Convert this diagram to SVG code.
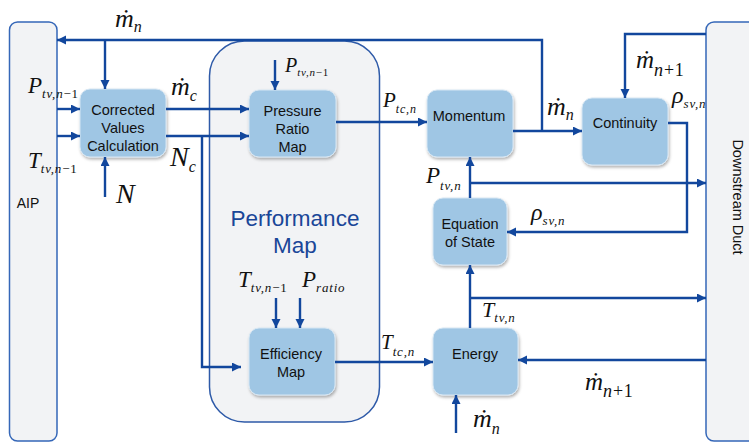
<svg xmlns="http://www.w3.org/2000/svg" width="749" height="443" viewBox="0 0 749 443">
<style>
.cn{fill:none;stroke:#12479d;stroke-width:2.4}
.box{fill:#9fc6e4;stroke:#d6e6f3;stroke-width:1}
.side{fill:#f2f3f5;stroke:#3567b8;stroke-width:1.5}
.bt{font-family:"Liberation Sans",Arial,sans-serif;font-size:14.5px;fill:#111;text-anchor:middle}
.mi{font-family:"Liberation Serif","Times New Roman",serif;font-style:italic;fill:#111}
.sb{font-size:13px;letter-spacing:0.8px}
.up{font-style:normal}
.pm{font-family:"Liberation Sans",Arial,sans-serif;font-size:22.5px;fill:#1a4698;text-anchor:middle}
</style>
<defs>
<marker id="ah" markerUnits="userSpaceOnUse" markerWidth="10" markerHeight="10" refX="9" refY="4.5" orient="auto">
<path d="M0,0 L9,4.5 L0,9 z" fill="#12479d"/>
</marker>
<filter id="sh" x="-10%" y="-10%" width="130%" height="130%">
<feDropShadow dx="1" dy="2" stdDeviation="1.5" flood-color="#000" flood-opacity="0.3"/>
</filter>
</defs>

<g id="aip">
<rect class="side" x="9.5" y="22" width="47.5" height="419" rx="8"/>
<text class="bt" x="28" y="208" style="font-size:14px">AIP</text>
</g>

<g id="downstream">
<rect class="side" x="706" y="22" width="60" height="419" rx="8"/>
<text class="bt" transform="translate(733,197) rotate(90)">Downstream Duct</text>
</g>

<g id="performance-map">
<rect x="209.5" y="41" width="170" height="381" rx="35" fill="#f2f3f5" stroke="#2e5aa8" stroke-width="1.5"/>
<text class="pm" x="295" y="226">Performance</text>
<text class="pm" x="295" y="253">Map</text>
</g>

<g id="corrected">
<rect class="box" x="80" y="89" width="86" height="68" rx="10" filter="url(#sh)"/>
<text class="bt" x="123" y="115">Corrected</text>
<text class="bt" x="123" y="133">Values</text>
<text class="bt" x="123" y="151">Calculation</text>
</g>

<g id="pressure">
<rect class="box" x="249" y="90" width="87" height="67" rx="10" filter="url(#sh)"/>
<text class="bt" x="292.5" y="116">Pressure</text>
<text class="bt" x="292.5" y="134">Ratio</text>
<text class="bt" x="292.5" y="152">Map</text>
</g>

<g id="efficiency">
<rect class="box" x="249" y="328" width="86" height="67" rx="10" filter="url(#sh)"/>
<text class="bt" x="291" y="359">Efficiency</text>
<text class="bt" x="291" y="377">Map</text>
</g>

<g id="momentum">
<rect class="box" x="427" y="90" width="86" height="67" rx="10" filter="url(#sh)"/>
<text class="bt" x="469" y="121">Momentum</text>
</g>

<g id="continuity">
<rect class="box" x="582" y="98" width="86" height="67" rx="10" filter="url(#sh)"/>
<text class="bt" x="625" y="128">Continuity</text>
</g>

<g id="eos">
<rect class="box" x="433" y="198" width="74" height="67" rx="10" filter="url(#sh)"/>
<text class="bt" x="470" y="229">Equation</text>
<text class="bt" x="470" y="247">of State</text>
</g>

<g id="energy">
<rect class="box" x="433" y="328" width="85" height="67" rx="10" filter="url(#sh)"/>
<text class="bt" x="475" y="359">Energy</text>
</g>

<g id="connectors">
<path class="cn" d="M542,131 V40 H57" marker-end="url(#ah)"/>
<path class="cn" d="M105,40 V89" marker-end="url(#ah)"/>
<path class="cn" d="M57,109 H80" marker-end="url(#ah)"/>
<path class="cn" d="M57,136 H80" marker-end="url(#ah)"/>
<path class="cn" d="M105,197 V157" marker-end="url(#ah)"/>
<path class="cn" d="M166,109 H249" marker-end="url(#ah)"/>
<path class="cn" d="M166,136 H249" marker-end="url(#ah)"/>
<path class="cn" d="M202,137 V367 H241" marker-end="url(#ah)"/>
<path class="cn" d="M275,60 V90" marker-end="url(#ah)"/>
<path class="cn" d="M336,122 H427" marker-end="url(#ah)"/>
<path class="cn" d="M513,131 H582" marker-end="url(#ah)"/>
<path class="cn" d="M706,34 H625 V98" marker-end="url(#ah)"/>
<path class="cn" d="M668,123 H687 V232 H507" marker-end="url(#ah)"/>
<path class="cn" d="M470,198 V157" marker-end="url(#ah)"/>
<path class="cn" d="M470,183 H706" marker-end="url(#ah)"/>
<path class="cn" d="M470,328 V265" marker-end="url(#ah)"/>
<path class="cn" d="M470,298 H706" marker-end="url(#ah)"/>
<path class="cn" d="M706,360 H518" marker-end="url(#ah)"/>
<path class="cn" d="M456,433 V395" marker-end="url(#ah)"/>
<path class="cn" d="M335,362 H433" marker-end="url(#ah)"/>
<path class="cn" d="M276,298 V328" marker-end="url(#ah)"/>
<path class="cn" d="M300,298 V328" marker-end="url(#ah)"/>
</g>

<g id="labels">
<text class="mi" x="115" y="27" font-size="26">ṁ<tspan class="sb" dy="5" style="font-size:16px">n</tspan></text>
<text class="mi" x="28" y="93" font-size="23">P<tspan class="sb" dy="5">tv,n<tspan class="up">−1</tspan></tspan></text>
<text class="mi" x="28" y="168" font-size="23">T<tspan class="sb" dy="5">tv,n<tspan class="up">−1</tspan></tspan></text>
<text class="mi" x="171" y="95" font-size="26">ṁ<tspan class="sb" dy="6" style="font-size:16px">c</tspan></text>
<text class="mi" x="170" y="166" font-size="28">N<tspan class="sb" dy="6" style="font-size:16px">c</tspan></text>
<text class="mi" x="116" y="203" font-size="28">N</text>
<text class="mi" x="285" y="72" font-size="20">P<tspan class="sb" dy="4" style="font-size:11px">tv,n<tspan class="up">−1</tspan></tspan></text>
<text class="mi" x="383" y="107" font-size="21">P<tspan class="sb" dy="6" style="font-size:12px">tc,n</tspan></text>
<text class="mi" x="547" y="115" font-size="26">ṁ<tspan class="sb" dy="5" style="font-size:16px">n</tspan></text>
<text class="mi" x="636" y="68" font-size="25">ṁ<tspan class="sb" dy="8" style="font-size:18px">n<tspan class="up">+1</tspan></tspan></text>
<text class="mi" x="672" y="103" font-size="24">ρ<tspan class="sb" dy="5">sv,n</tspan></text>
<text class="mi" x="531" y="220" font-size="24">ρ<tspan class="sb" dy="5">sv,n</tspan></text>
<text class="mi" x="426" y="183" font-size="23">P<tspan class="sb" dy="7">tv,n</tspan></text>
<text class="mi" x="482" y="317" font-size="22">T<tspan class="sb" dy="5">tv,n</tspan></text>
<text class="mi" x="381" y="349" font-size="21">T<tspan class="sb" dy="7">tc,n</tspan></text>
<text class="mi" x="238" y="287" font-size="23">T<tspan class="sb" dy="5">tv,n<tspan class="up">−1</tspan></tspan></text>
<text class="mi" x="302" y="287" font-size="23">P<tspan class="sb" dy="5">ratio</tspan></text>
<text class="mi" x="585" y="390" font-size="25">ṁ<tspan class="sb" dy="7" style="font-size:18px">n<tspan class="up">+1</tspan></tspan></text>
<text class="mi" x="473" y="427" font-size="26">ṁ<tspan class="sb" dy="7" style="font-size:16px">n</tspan></text>
</g>
</svg>
